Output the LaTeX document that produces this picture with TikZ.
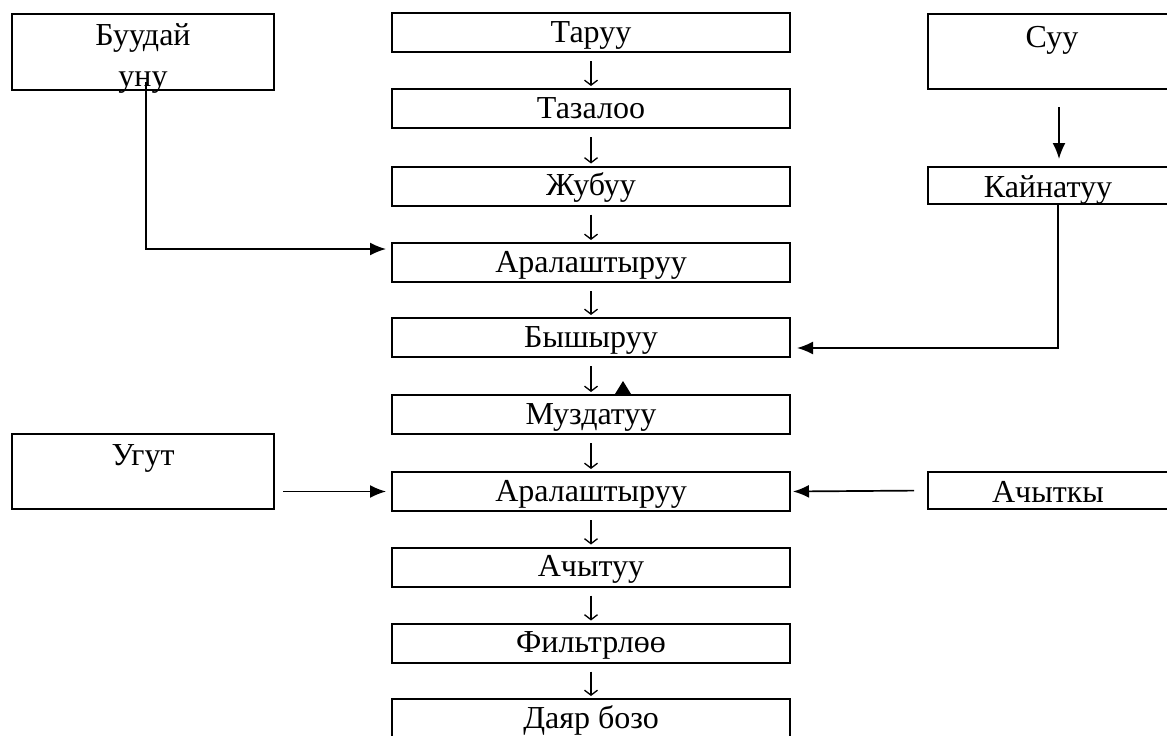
\documentclass[tikz,border=0pt]{standalone}
\usepackage{fontspec}
\setmainfont{Liberation Serif}
\usetikzlibrary{arrows.meta}
\begin{document}
\begin{tikzpicture}[x=1pt,y=-1pt,
 box/.style={draw, line width=2pt, minimum width=398pt, minimum height=39pt, inner sep=0pt, text height=21pt, text depth=2pt, font=\fontsize{32}{38}\selectfont},
 sidebox/.style={draw, line width=2pt, inner sep=0pt},
 rbox/.style={draw, line width=2pt, inner sep=0pt, minimum width=240pt, minimum height=37pt, text height=25pt, text depth=2pt, font=\fontsize{32}{38}\selectfont},
 lbl/.style={inner sep=0pt, anchor=base, font=\fontsize{32}{38}\selectfont},
 dn/.style={line width=1.3pt, -{Straight Barb[length=5pt,width=13pt]}, shorten <=8pt, shorten >=2pt},
 flow/.style={line width=1.7pt, -{Latex[length=16pt,width=13pt]}},
]
\useasboundingbox (0,0) rectangle (1167,736);
% central column
\node[box] (t1) at (591,32.5) {Таруу};
\node[box] (t2) at (591,108.5) {Тазалоо};
\node[box] (t3) at (591,186) {Жубуу};
\node[box] (t4) at (591,262.5) {Аралаштыруу};
\node[box] (t5) at (591,337.5) {Бышыруу};
\node[box] (t6) at (591,414.5) {Муздатуу};
\node[box] (t7) at (591,491.5) {Аралаштыруу};
\node[box] (t8) at (591,567) {Ачытуу};
\node[box] (t9) at (591,643) {Фильтрлөө};
\node[box] (t10) at (591,718.5) {Даяр бозо};
\foreach \a/\b in {t1/t2,t2/t3,t3/t4,t4/t5,t5/t6,t6/t7,t7/t8,t8/t9,t9/t10}
  \draw[dn] (\a) -- (\b);
% side boxes
\node[sidebox, minimum width=262pt, minimum height=76pt] (buu) at (143,52) {};
\node[lbl] (buutxt) at (143,45) {Буудай};
\node[lbl] (unutxt) at (143,86) {уну};
\node[sidebox, minimum width=240pt, minimum height=75pt] (suu) at (1048,51.5) {};
\node[lbl] (suutxt) at (1052,47) {Суу};
\node[rbox] (kai) at (1048,185.5) {Кайнатуу};
\node[sidebox, minimum width=262pt, minimum height=75pt] (ugut) at (143,471.5) {};
\node[lbl] (ugtxt) at (143,465) {Угут};
\node[rbox] (ach) at (1048,490.5) {Ачыткы};
% connectors
\coordinate (bstart) at (146,82);
\draw[flow, shorten >=5pt] (bstart) |- ([yshift=13.5pt]t4.west);
\draw[flow, shorten <=17pt, shorten >=7pt] ([xshift=11pt]suu.south) -- ([xshift=11pt]kai.north);
\draw[flow, shorten >=6pt] ([xshift=10pt]kai.south) |- ([yshift=-10.5pt]t5.east);
\draw[flow, shorten <=8pt, shorten >=5pt] (ugut.east |- t7.west) -- (t7.west);
\draw[flow, shorten <=13pt, shorten >=2pt] (ach.west) -- (t7.east);
% stray arrowhead
\fill (615,394) -- (631,394) -- (623,381) -- cycle;
\end{tikzpicture}
\end{document}
